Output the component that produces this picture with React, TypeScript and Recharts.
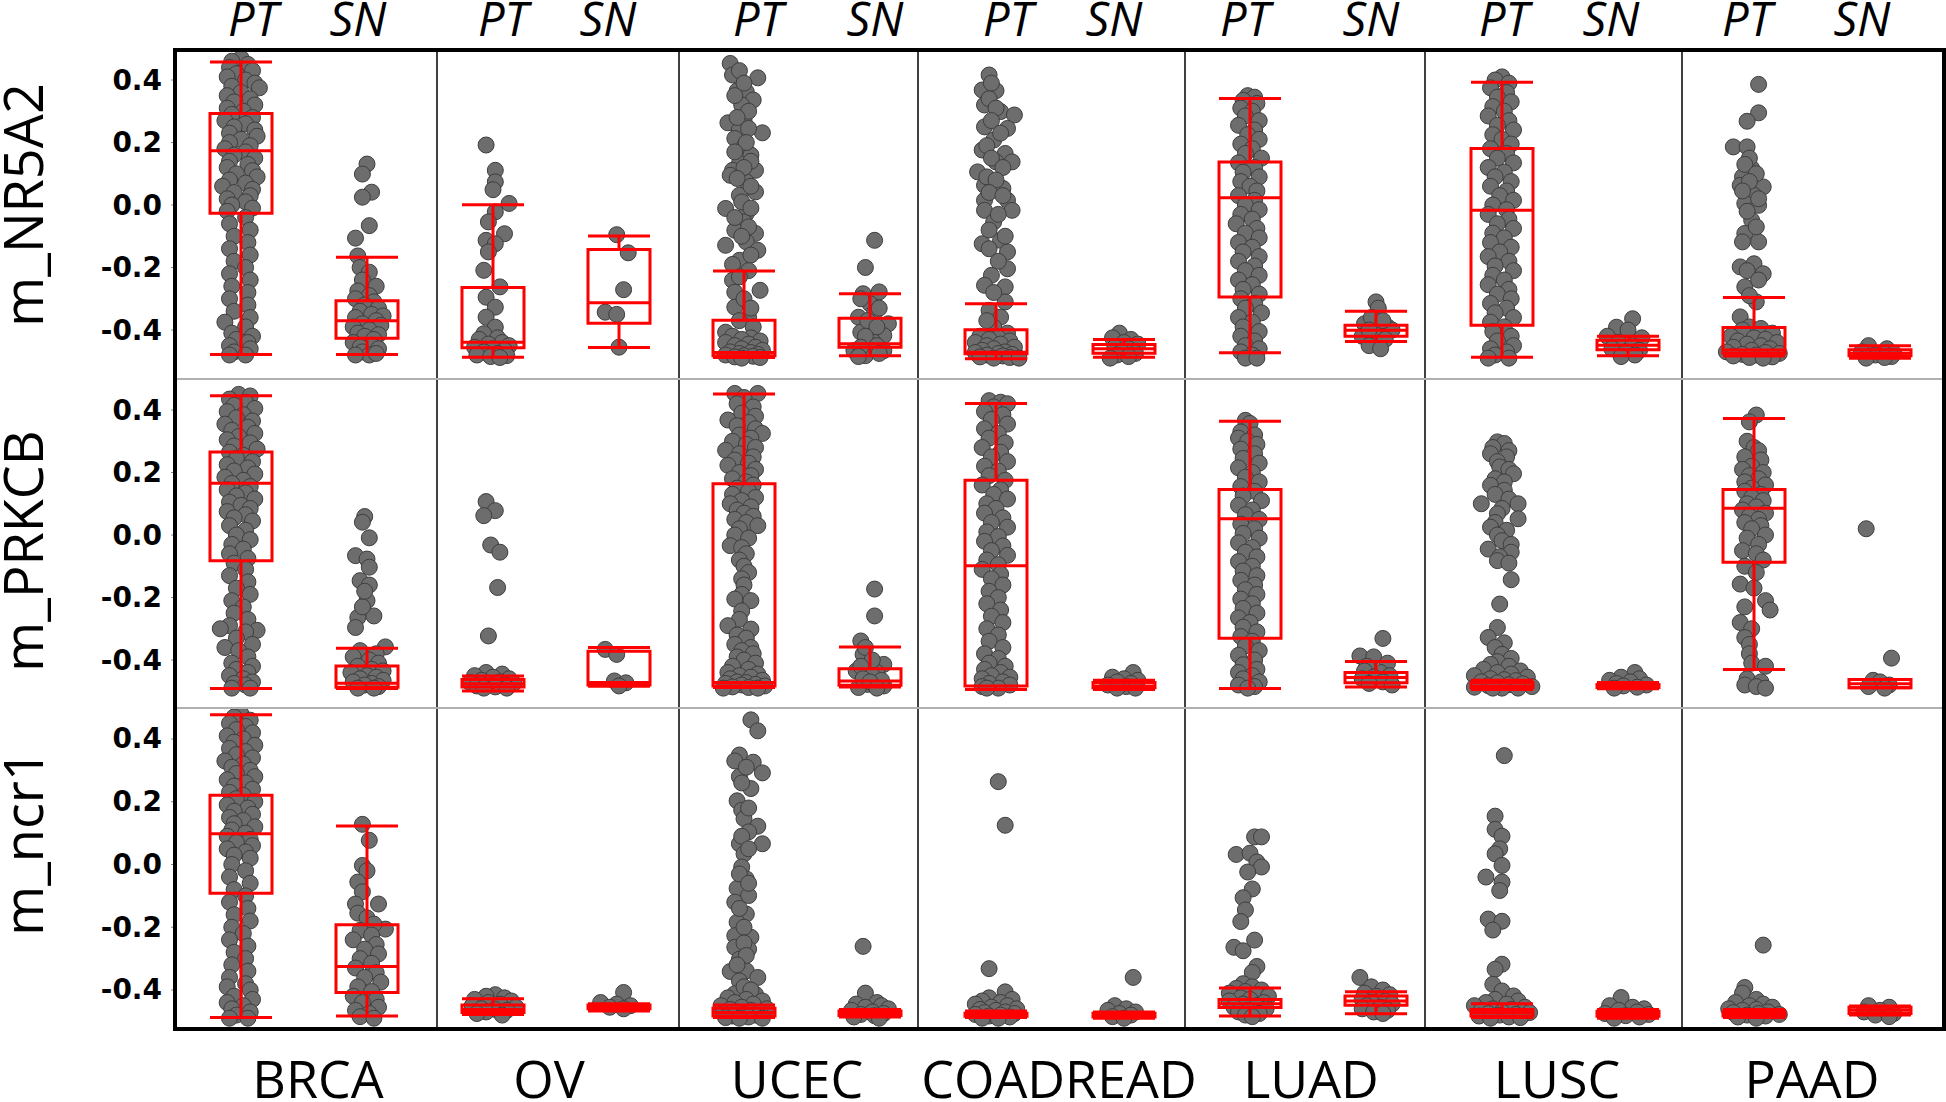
import React from 'react';
import { ScatterChart, Scatter, XAxis, YAxis, ReferenceArea, ReferenceLine } from 'recharts';

const CANCERS = ['BRCA', 'OV', 'UCEC', 'COADREAD', 'LUAD', 'LUSC', 'PAAD'];
const GROUPS = ['PT', 'SN'];
const GENES = ['m_NR5A2', 'm_PRKCB', 'm_ncr1'];
const MAJOR_TICKS = [-0.4, -0.2, 0, 0.2, 0.4];
const ALL_TICKS = [-0.5, -0.4, -0.3, -0.2, -0.1, 0, 0.1, 0.2, 0.3, 0.4];

type Pt = [number, number]; // [value, horizontal jitter]

// ---- m_NR5A2 ----
const NR5A2_BRCA_PT: Pt[] = [[0.47,0],[0.46,-4],[0.45,3],[0.44,-5],[0.43,5],[0.42,-2],[0.41,-6],[0.40,2],[0.39,6],[0.38,-4],[0.375,8],[0.36,0],[0.35,-6],[0.34,4],[0.33,-3],[0.32,6],[0.31,-6],[0.30,1],[0.29,-4],[0.28,5],[0.27,-7],[0.26,2],[0.25,-3],[0.24,6],[0.23,-5],[0.22,7],[0.21,0],[0.20,-5],[0.19,4],[0.18,-7],[0.17,2],[0.16,-3],[0.15,6],[0.14,-5],[0.13,3],[0.12,-6],[0.11,5],[0.10,-2],[0.09,7],[0.08,-5],[0.07,2],[0.06,-8],[0.05,5],[0.04,-3],[0.03,4],[0.02,-6],[0.01,2],[0.0,-4],[-0.01,5],[-0.02,-6],[-0.04,2],[-0.06,-5],[-0.08,4],[-0.10,-3],[-0.12,3],[-0.14,-5],[-0.16,4],[-0.18,-3],[-0.2,2],[-0.22,-5],[-0.24,4],[-0.26,-4],[-0.28,3],[-0.30,-5],[-0.32,3],[-0.34,-3],[-0.36,4],[-0.375,-7],[-0.39,2],[-0.41,-4],[-0.42,5],[-0.43,-2],[-0.44,3],[-0.45,-5],[-0.46,4],[-0.47,-3],[-0.48,2],[-0.48,-5]];
const NR5A2_BRCA_SN: Pt[] = [[0.131,0],[0.099,-2],[0.041,2],[0.025,-2],[-0.066,1],[-0.106,-5],[-0.163,-4],[-0.2,-3],[-0.215,1],[-0.24,-2],[-0.26,4],[-0.275,-4],[-0.29,1],[-0.3,-5],[-0.31,3],[-0.32,-1],[-0.33,5],[-0.34,-3],[-0.35,2],[-0.355,7],[-0.36,-5],[-0.37,4],[-0.38,-2],[-0.385,6],[-0.39,-6],[-0.40,1],[-0.41,-4],[-0.415,5],[-0.42,-1],[-0.43,3],[-0.44,-6],[-0.45,2],[-0.455,-3],[-0.46,5],[-0.47,-2],[-0.48,1],[-0.48,-5],[-0.475,4]];
const NR5A2_OV_PT: Pt[] = [[0.192,-3],[0.111,1],[0.074,1],[0.049,0],[0.005,7],[-0.022,1],[-0.054,-2],[-0.092,5],[-0.113,-3],[-0.124,1],[-0.15,-2],[-0.209,-4],[-0.262,3],[-0.295,-3],[-0.327,1],[-0.359,-3],[-0.391,1],[-0.412,-4],[-0.425,2],[-0.43,-6],[-0.44,4],[-0.445,-2],[-0.45,7],[-0.455,-8],[-0.46,0],[-0.465,5],[-0.47,-4],[-0.475,2],[-0.48,-7],[-0.482,6],[-0.485,-1],[-0.488,3]];
const NR5A2_OV_SN: Pt[] = [[-0.095,-1],[-0.153,4],[-0.271,2],[-0.343,-6],[-0.35,-1],[-0.455,0]];
const NR5A2_UCEC_PT: Pt[] = [[0.453,-6],[0.416,-5],[0.407,6],[0.365,-3],[0.362,1],[0.336,4],[0.32,-1],[0.272,0],[0.263,-7],[0.231,8],[0.24,-2],[0.245,2],[0.213,-4],[0.186,0],[0.16,3],[0.133,-2],[0.111,-5],[0.111,5],[0.095,-6],[0.074,1],[0.031,-2],[0.042,5],[-0.011,-8],[-0.027,1],[-0.054,0],[-0.081,-4],[-0.091,5],[-0.129,-8],[-0.118,1],[-0.145,6],[-0.177,-2],[-0.241,-5],[-0.273,7],[-0.279,-4],[-0.327,-4],[-0.359,2],[-0.407,-8],[0.43,-2],[0.39,0],[0.35,-4],[0.30,2],[0.28,-3],[0.2,1],[0.17,-4],[0.14,3],[0.12,0],[0.085,-3],[0.06,3],[0.01,-1],[-0.01,3],[-0.04,-4],[-0.07,2],[-0.1,-1],[-0.16,3],[-0.19,-5],[-0.21,2],[-0.23,-2],[-0.3,0],[-0.33,3],[-0.37,-2],[-0.39,4],[-0.42,-5],[-0.425,3],[-0.43,-1],[-0.435,7],[-0.44,-8],[-0.445,2],[-0.45,-4],[-0.455,5],[-0.46,-1],[-0.465,8],[-0.47,-6],[-0.472,3],[-0.475,-2],[-0.478,6],[-0.48,-8],[-0.482,0],[-0.484,4],[-0.486,-4],[-0.488,7],[-0.49,-1]];
const NR5A2_UCEC_SN: Pt[] = [[-0.113,2],[-0.2,-2],[-0.284,-3],[-0.278,4],[-0.316,0],[-0.343,2],[-0.359,-5],[-0.38,8],[-0.407,-4],[-0.418,6],[-0.434,1],[-0.466,-7],[-0.482,-2],[-0.466,6],[-0.3,-4],[-0.33,4],[-0.37,-1],[-0.39,3],[-0.42,-2],[-0.45,3],[-0.455,-4],[-0.475,4],[-0.485,-5]];
const NR5A2_COAD_PT: Pt[] = [[0.416,-3],[0.368,-6],[0.366,0],[0.32,-5],[0.299,2],[0.288,8],[0.25,-5],[0.245,5],[0.208,-1],[0.176,-6],[0.165,4],[0.138,0],[0.106,-8],[0.138,7],[0.063,-5],[0.053,3],[0.015,-5],[0.015,5],[-0.017,-5],[-0.017,7],[-0.054,-1],[-0.124,-6],[-0.113,2],[-0.15,5],[-0.204,5],[-0.225,-2],[-0.257,-5],[-0.262,4],[-0.31,4],[-0.337,-3],[-0.359,2],[-0.391,-1],[0.39,-2],[0.34,-3],[0.31,0],[0.27,-2],[0.23,2],[0.19,-4],[0.15,-2],[0.12,3],[0.09,-4],[0.08,0],[0.04,-3],[0.03,3],[-0.03,1],[-0.08,-3],[-0.1,4],[-0.14,-3],[-0.18,1],[-0.28,-1],[-0.37,-4],[-0.41,5],[-0.42,-7],[-0.425,1],[-0.43,-3],[-0.435,6],[-0.44,-9],[-0.445,2],[-0.45,-4],[-0.455,8],[-0.46,-1],[-0.465,-6],[-0.47,4],[-0.472,-9],[-0.475,1],[-0.478,7],[-0.48,-4],[-0.483,3],[-0.486,-7],[-0.488,6],[-0.49,-1],[-0.49,10]];
const NR5A2_COAD_SN: Pt[] = [[-0.41,-2],[-0.425,-5],[-0.43,3],[-0.44,0],[-0.445,6],[-0.455,-4],[-0.46,2],[-0.47,-1],[-0.475,5],[-0.48,-3],[-0.485,2],[-0.49,-6]];
const NR5A2_LUAD_PT: Pt[] = [[0.35,-1],[0.345,2],[0.335,-3],[0.325,3],[0.31,-4],[0.3,1],[0.285,-2],[0.27,4],[0.255,-5],[0.24,2],[0.225,-1],[0.21,4],[0.195,-4],[0.18,1],[0.165,-2],[0.15,5],[0.135,-5],[0.12,2],[0.105,-3],[0.09,4],[0.075,-4],[0.06,0],[0.045,3],[0.03,-5],[0.015,2],[0.0,-2],[-0.015,4],[-0.03,-4],[-0.045,1],[-0.06,-6],[-0.075,3],[-0.09,-2],[-0.105,4],[-0.12,-5],[-0.135,1],[-0.15,-3],[-0.165,4],[-0.18,-5],[-0.195,2],[-0.21,-2],[-0.225,4],[-0.24,-5],[-0.255,1],[-0.27,-3],[-0.285,4],[-0.3,-4],[-0.315,2],[-0.33,-2],[-0.345,5],[-0.36,-5],[-0.375,1],[-0.39,-3],[-0.405,4],[-0.42,-4],[-0.435,2],[-0.45,-2],[-0.46,4],[-0.47,-4],[-0.48,1],[-0.49,-2],[-0.49,3]];
const NR5A2_LUAD_SN: Pt[] = [[-0.31,0],[-0.33,1],[-0.38,-5],[-0.39,5],[-0.41,-1],[-0.42,-6],[-0.40,7],[-0.442,1],[-0.36,-2],[-0.37,3],[-0.4,-3],[-0.43,4],[-0.45,-3],[-0.46,2]];
const NR5A2_LUSC_PT: Pt[] = [[0.41,0],[0.4,-3],[0.39,3],[0.375,-5],[0.36,2],[0.345,-2],[0.33,4],[0.315,-4],[0.3,1],[0.285,-6],[0.27,3],[0.255,-2],[0.24,5],[0.225,-4],[0.21,0],[0.195,4],[0.18,-5],[0.165,2],[0.15,-2],[0.135,5],[0.12,-6],[0.105,1],[0.09,-3],[0.075,4],[0.06,-5],[0.045,2],[0.03,-1],[0.015,5],[0.0,-4],[-0.015,2],[-0.03,-6],[-0.045,3],[-0.06,-2],[-0.075,5],[-0.09,-4],[-0.105,1],[-0.12,-5],[-0.135,4],[-0.15,-1],[-0.165,-6],[-0.18,3],[-0.195,-3],[-0.21,5],[-0.225,-4],[-0.24,1],[-0.255,-6],[-0.27,3],[-0.285,-2],[-0.3,4],[-0.315,-5],[-0.33,2],[-0.345,-3],[-0.36,5],[-0.375,-5],[-0.39,1],[-0.405,-4],[-0.42,4],[-0.435,-2],[-0.45,5],[-0.46,-5],[-0.47,2],[-0.48,-3],[-0.49,3],[-0.49,-6]];
const NR5A2_LUSC_SN: Pt[] = [[-0.364,2],[-0.391,-5],[-0.4,0],[-0.42,-9],[-0.425,6],[-0.44,-4],[-0.45,2],[-0.46,-7],[-0.465,5],[-0.47,-1],[-0.48,3],[-0.485,-3]];
const NR5A2_PAAD_PT: Pt[] = [[0.386,2],[0.295,2],[0.268,-3],[0.186,-9],[0.186,-3],[0.117,-1],[0.09,-5],[0.058,4],[0.063,-6],[0.031,0],[0.005,-4],[-0.001,2],[-0.049,-1],[-0.091,-4],[-0.118,-5],[-0.118,2],[-0.198,-6],[-0.188,0],[-0.22,4],[-0.262,-4],[-0.31,1],[-0.358,-6],[-0.39,-2],[0.15,-2],[0.13,-4],[0.1,1],[0.075,-2],[0.045,-5],[0.02,2],[-0.02,-3],[-0.07,1],[-0.21,-3],[-0.24,2],[-0.29,-2],[-0.395,3],[-0.4,-5],[-0.41,8],[-0.42,-10],[-0.425,0],[-0.43,5],[-0.435,-7],[-0.44,10],[-0.445,-3],[-0.45,3],[-0.455,-9],[-0.46,7],[-0.465,-1],[-0.47,-12],[-0.472,5],[-0.475,11],[-0.478,-5],[-0.48,1],[-0.483,-9],[-0.486,8],[-0.488,-2],[-0.49,4]];
const NR5A2_PAAD_SN: Pt[] = [[-0.45,-5],[-0.46,3],[-0.47,-8],[-0.475,6],[-0.48,-2],[-0.485,5],[-0.49,-6],[-0.488,2]];

// ---- m_PRKCB ----
const PRKCB_BRCA_PT: Pt[] = [[0.45,-1],[0.445,4],[0.435,-5],[0.425,2],[0.415,-3],[0.405,6],[0.395,-6],[0.385,1],[0.375,-2],[0.365,5],[0.355,-7],[0.345,3],[0.335,-4],[0.325,6],[0.315,-1],[0.305,-6],[0.295,4],[0.285,-3],[0.275,7],[0.265,-5],[0.255,1],[0.245,-2],[0.235,5],[0.225,-6],[0.215,3],[0.205,-3],[0.195,6],[0.185,-7],[0.175,1],[0.165,-4],[0.155,4],[0.145,-6],[0.135,2],[0.125,-2],[0.115,6],[0.105,-5],[0.095,0],[0.085,4],[0.075,-6],[0.065,2],[0.055,-3],[0.045,5],[0.03,-5],[0.015,2],[0.0,-2],[-0.015,4],[-0.03,-4],[-0.045,1],[-0.06,-5],[-0.075,3],[-0.09,-3],[-0.11,2],[-0.13,-5],[-0.15,3],[-0.17,-2],[-0.19,4],[-0.21,-4],[-0.23,1],[-0.25,-3],[-0.27,3],[-0.29,-5],[-0.3,-9],[-0.305,7],[-0.31,2],[-0.33,-2],[-0.35,5],[-0.36,-7],[-0.37,-1],[-0.39,3],[-0.41,-4],[-0.42,5],[-0.43,-2],[-0.44,3],[-0.45,-5],[-0.46,1],[-0.47,5],[-0.475,-3],[-0.48,2],[-0.49,-4],[-0.49,4]];
const PRKCB_BRCA_SN: Pt[] = [[0.059,-1],[0.041,-2],[-0.009,1],[-0.066,-5],[-0.077,0],[-0.103,1],[-0.146,-3],[-0.16,1],[-0.21,0],[-0.264,-4],[-0.259,3],[-0.296,-5],[-0.358,8],[-0.23,-2],[-0.18,-1],[-0.37,-3],[-0.38,4],[-0.39,-6],[-0.4,1],[-0.41,5],[-0.42,-4],[-0.43,2],[-0.435,7],[-0.44,-7],[-0.45,0],[-0.455,4],[-0.46,-3],[-0.465,7],[-0.47,-6],[-0.475,2],[-0.48,-1],[-0.485,5],[-0.49,-4],[-0.49,3]];
const PRKCB_OV_PT: Pt[] = [[0.107,-3],[0.078,1],[0.062,-4],[-0.032,-1],[-0.055,3],[-0.168,2],[-0.323,-2],[-0.44,-3],[-0.445,4],[-0.45,-8],[-0.455,0],[-0.46,7],[-0.465,-5],[-0.47,3],[-0.472,-10],[-0.475,9],[-0.478,-2],[-0.48,5],[-0.483,-7],[-0.486,1],[-0.49,-4],[-0.49,6]];
const PRKCB_OV_SN: Pt[] = [[-0.366,-6],[-0.382,-1],[-0.467,-2],[-0.473,3],[-0.483,0]];
const PRKCB_UCEC_PT: Pt[] = [[0.453,-4],[0.453,6],[0.44,0],[0.42,-3],[0.41,4],[0.39,-1],[0.38,5],[0.368,-7],[0.36,2],[0.35,-3],[0.34,5],[0.325,8],[0.32,-2],[0.31,3],[0.3,-5],[0.29,1],[0.28,5],[0.271,-8],[0.26,-2],[0.25,4],[0.24,-4],[0.23,2],[0.223,-7],[0.21,5],[0.2,-2],[0.19,3],[0.18,-5],[0.17,1],[0.16,4],[0.15,-3],[0.14,2],[0.13,-5],[0.12,5],[0.11,-1],[0.1,-6],[0.09,3],[0.08,-3],[0.07,0],[0.06,4],[0.05,-4],[0.04,1],[0.03,6],[0.02,-2],[0.0,-4],[-0.01,2],[-0.034,-6],[-0.04,-1],[-0.06,1],[-0.08,-2],[-0.1,0],[-0.12,2],[-0.14,-1],[-0.16,0],[-0.19,-1],[-0.205,-4],[-0.21,3],[-0.243,-1],[-0.27,-2],[-0.29,-7],[-0.301,3],[-0.32,-3],[-0.33,1],[-0.35,-4],[-0.36,3],[-0.37,-1],[-0.38,4],[-0.39,-3],[-0.4,0],[-0.41,5],[-0.42,-5],[-0.43,2],[-0.44,-7],[-0.445,6],[-0.45,-2],[-0.455,3],[-0.46,-6],[-0.465,8],[-0.47,-3],[-0.472,1],[-0.475,-8],[-0.478,5],[-0.48,-1],[-0.483,9],[-0.486,-5],[-0.488,2],[-0.49,-9],[-0.49,6]];
const PRKCB_UCEC_SN: Pt[] = [[-0.173,2],[-0.259,2],[-0.339,-4],[-0.382,-3],[-0.414,6],[-0.435,-6],[-0.44,3],[-0.478,-1],[-0.488,-5],[-0.483,6],[-0.36,-2],[-0.4,1],[-0.42,-4],[-0.45,1],[-0.46,-3],[-0.465,5],[-0.47,0],[-0.49,3]];
const PRKCB_COAD_PT: Pt[] = [[0.43,-3],[0.425,2],[0.42,5],[0.41,-1],[0.395,-5],[0.385,3],[0.37,-2],[0.355,5],[0.34,-5],[0.325,1],[0.31,-3],[0.295,4],[0.28,-6],[0.265,2],[0.25,-2],[0.235,5],[0.22,-5],[0.205,1],[0.19,-3],[0.175,4],[0.16,-6],[0.145,2],[0.13,-1],[0.115,5],[0.1,-4],[0.085,0],[0.07,-5],[0.055,3],[0.04,-2],[0.025,5],[0.01,-4],[-0.005,1],[-0.02,-5],[-0.035,3],[-0.05,-2],[-0.065,5],[-0.08,-4],[-0.095,1],[-0.11,-6],[-0.125,2],[-0.14,-2],[-0.16,3],[-0.18,-3],[-0.2,1],[-0.22,-4],[-0.24,2],[-0.26,-2],[-0.28,3],[-0.3,-4],[-0.32,1],[-0.34,-3],[-0.36,3],[-0.38,-5],[-0.395,1],[-0.41,-3],[-0.42,4],[-0.43,-5],[-0.44,2],[-0.45,-2],[-0.455,6],[-0.46,-6],[-0.47,3],[-0.475,-3],[-0.48,6],[-0.485,-6],[-0.49,1],[-0.49,-4]];
const PRKCB_COAD_SN: Pt[] = [[-0.44,4],[-0.455,-5],[-0.46,0],[-0.465,6],[-0.47,-3],[-0.475,3],[-0.48,-7],[-0.485,1],[-0.49,5],[-0.49,-3]];
const PRKCB_LUAD_PT: Pt[] = [[0.367,-2],[0.357,0],[0.33,-4],[0.32,2],[0.31,-5],[0.3,-1],[0.29,3],[0.275,-4],[0.26,2],[0.245,-3],[0.23,4],[0.215,-5],[0.2,1],[0.185,-2],[0.17,4],[0.155,-4],[0.14,2],[0.125,-3],[0.11,5],[0.095,-5],[0.08,1],[0.065,-2],[0.05,4],[0.035,-4],[0.02,2],[0.005,-3],[-0.01,4],[-0.025,-5],[-0.04,1],[-0.055,-2],[-0.07,3],[-0.085,-5],[-0.1,1],[-0.115,-3],[-0.13,3],[-0.145,-4],[-0.16,2],[-0.175,-2],[-0.19,3],[-0.205,-4],[-0.22,1],[-0.235,-3],[-0.25,3],[-0.265,-5],[-0.28,0],[-0.295,-3],[-0.31,3],[-0.325,-4],[-0.34,1],[-0.355,-2],[-0.37,4],[-0.385,-5],[-0.4,2],[-0.415,-3],[-0.43,3],[-0.44,-5],[-0.45,1],[-0.46,-3],[-0.47,4],[-0.48,-5],[-0.485,2],[-0.49,-1]];
const PRKCB_LUAD_SN: Pt[] = [[-0.331,3],[-0.387,-7],[-0.39,-1],[-0.41,5],[-0.42,-4],[-0.435,-5],[-0.44,2],[-0.45,6],[-0.455,-1],[-0.46,-6],[-0.47,3],[-0.475,-3],[-0.48,7]];
const PRKCB_LUSC_PT: Pt[] = [[0.298,-2],[0.293,1],[0.28,-4],[0.27,3],[0.26,-5],[0.25,2],[0.235,-2],[0.218,-1],[0.21,3],[0.196,5],[0.18,-3],[0.17,1],[0.159,-5],[0.143,1],[0.13,-3],[0.115,3],[0.1,-9],[0.1,7],[0.085,0],[0.068,-2],[0.052,7],[0.04,-3],[0.025,-5],[0.015,2],[0.0,-2],[-0.018,0],[-0.03,4],[-0.045,-6],[-0.055,4],[-0.07,-1],[-0.082,-2],[-0.09,3],[-0.143,4],[-0.221,-1],[-0.296,-2],[-0.328,-6],[-0.345,1],[-0.36,-3],[-0.382,0],[-0.395,4],[-0.405,-2],[-0.414,-5],[-0.42,3],[-0.43,-8],[-0.435,8],[-0.44,-2],[-0.445,4],[-0.45,-12],[-0.455,11],[-0.46,-5],[-0.463,1],[-0.466,6],[-0.47,-9],[-0.473,-2],[-0.476,9],[-0.479,3],[-0.482,-6],[-0.485,13],[-0.487,-12],[-0.49,0],[-0.49,7],[-0.49,-4]];
const PRKCB_LUSC_SN: Pt[] = [[-0.44,3],[-0.455,-3],[-0.46,5],[-0.465,-8],[-0.47,1],[-0.475,-5],[-0.48,8],[-0.483,-2],[-0.487,4],[-0.49,-6]];
const PRKCB_PAAD_PT: Pt[] = [[0.384,1],[0.362,-2],[0.3,-3],[0.28,0],[0.27,2],[0.25,-4],[0.24,3],[0.22,-1],[0.21,-5],[0.2,4],[0.19,-2],[0.18,2],[0.17,-4],[0.16,5],[0.15,-1],[0.14,-4],[0.13,3],[0.12,-1],[0.11,4],[0.1,-3],[0.09,1],[0.08,-5],[0.07,5],[0.06,-2],[0.05,2],[0.04,-4],[0.03,3],[0.02,-1],[0.0,5],[-0.01,-3],[-0.03,2],[-0.05,-5],[-0.06,1],[-0.08,4],[-0.1,-4],[-0.12,1],[-0.157,-6],[-0.17,0],[-0.21,5],[-0.23,-4],[-0.24,7],[-0.28,-6],[-0.3,-1],[-0.328,-4],[-0.35,-2],[-0.38,-2],[-0.41,-1],[-0.42,5],[-0.46,-3],[-0.47,3],[-0.48,-4],[-0.485,1],[-0.49,5]];
const PRKCB_PAAD_SN: Pt[] = [[0.02,-6],[-0.394,5],[-0.465,-3],[-0.47,0],[-0.48,4],[-0.485,-5],[-0.49,2]];

// ---- m_ncr1 ----
const NCR1_BRCA_PT: Pt[] = [[0.48,0],[0.47,-3],[0.46,4],[0.45,-5],[0.44,2],[0.43,-2],[0.42,5],[0.41,-6],[0.4,1],[0.39,-3],[0.38,6],[0.37,-5],[0.36,2],[0.35,-2],[0.34,5],[0.33,-7],[0.32,1],[0.31,-4],[0.3,4],[0.29,-2],[0.28,6],[0.27,-6],[0.26,2],[0.25,-3],[0.24,5],[0.23,-5],[0.22,1],[0.21,-2],[0.2,6],[0.19,-6],[0.18,3],[0.17,-3],[0.16,5],[0.15,-5],[0.14,1],[0.13,-3],[0.12,6],[0.11,-4],[0.1,2],[0.09,-6],[0.08,4],[0.07,-2],[0.06,5],[0.05,-6],[0.04,2],[0.03,-3],[0.02,4],[0.0,-4],[-0.02,2],[-0.04,-5],[-0.06,4],[-0.08,-3],[-0.1,2],[-0.12,-5],[-0.14,3],[-0.16,-3],[-0.18,4],[-0.2,-4],[-0.22,1],[-0.24,-5],[-0.26,3],[-0.28,-3],[-0.3,2],[-0.32,-4],[-0.34,3],[-0.36,-5],[-0.38,2],[-0.39,-6],[-0.4,4],[-0.42,-3],[-0.43,5],[-0.44,-6],[-0.45,1],[-0.46,-4],[-0.47,4],[-0.48,-2],[-0.49,3],[-0.49,-5]];
const NCR1_BRCA_SN: Pt[] = [[0.128,-2],[0.077,1],[-0.003,-2],[-0.02,0],[-0.056,-4],[-0.087,-2],[-0.126,-5],[-0.126,5],[-0.155,-4],[-0.206,8],[-0.17,0],[-0.19,3],[-0.21,-3],[-0.225,2],[-0.24,-6],[-0.255,4],[-0.27,-1],[-0.285,5],[-0.3,-3],[-0.315,2],[-0.33,-5],[-0.345,4],[-0.36,-1],[-0.375,6],[-0.39,-4],[-0.405,2],[-0.42,-6],[-0.43,4],[-0.44,-2],[-0.455,5],[-0.465,-5],[-0.475,1],[-0.485,-3],[-0.49,3]];
const NCR1_OV_PT: Pt[] = [[-0.415,1],[-0.42,-3],[-0.425,5],[-0.43,-8],[-0.435,8],[-0.44,-2],[-0.445,3],[-0.45,-9],[-0.455,10],[-0.46,-5],[-0.462,1],[-0.465,6],[-0.47,-3],[-0.475,-7],[-0.48,4]];
const NCR1_OV_SN: Pt[] = [[-0.408,2],[-0.44,-8],[-0.445,-1],[-0.45,5],[-0.455,-4],[-0.46,2]];
const NCR1_UCEC_PT: Pt[] = [[0.461,3],[0.426,6],[0.349,-2],[0.33,-4],[0.326,4],[0.292,8],[0.28,-2],[0.242,3],[0.203,-3],[0.173,-1],[0.146,0],[0.122,6],[0.104,2],[0.066,-2],[0.066,8],[0.034,0],[-0.008,-1],[-0.046,1],[-0.076,-3],[-0.099,2],[-0.12,-4],[-0.158,1],[-0.184,-3],[-0.227,-4],[-0.232,3],[-0.264,-4],[-0.27,2],[-0.302,-2],[-0.341,-6],[-0.339,1],[-0.36,6],[-0.371,-2],[-0.412,-4],[-0.414,5],[0.31,1],[0.26,-1],[0.18,2],[0.09,-1],[0.05,2],[-0.03,-2],[-0.06,2],[-0.14,-2],[-0.2,0],[-0.25,0],[-0.29,1],[-0.32,-3],[-0.39,0],[-0.4,3],[-0.425,-7],[-0.43,1],[-0.435,8],[-0.44,-4],[-0.445,4],[-0.45,-10],[-0.455,-1],[-0.46,10],[-0.462,-6],[-0.465,3],[-0.47,-3],[-0.472,7],[-0.475,-9],[-0.478,0],[-0.48,5],[-0.483,-5],[-0.486,2],[-0.488,-8],[-0.49,8],[-0.49,-2]];
const NCR1_UCEC_SN: Pt[] = [[-0.261,-3],[-0.41,-2],[-0.44,3],[-0.445,-6],[-0.45,5],[-0.455,-2],[-0.46,8],[-0.465,-8],[-0.47,1],[-0.475,6],[-0.478,-4],[-0.482,2],[-0.486,-7],[-0.49,4]];
const NCR1_COAD_PT: Pt[] = [[0.264,1],[0.125,4],[-0.332,-3],[-0.406,4],[-0.425,-3],[-0.43,7],[-0.435,-6],[-0.44,2],[-0.445,-9],[-0.45,5],[-0.455,-2],[-0.46,9],[-0.462,-7],[-0.465,0],[-0.47,4],[-0.472,-5],[-0.475,8],[-0.478,-9],[-0.48,2],[-0.483,-3],[-0.486,6],[-0.49,-6],[-0.49,1]];
const NCR1_COAD_SN: Pt[] = [[-0.36,4],[-0.45,-4],[-0.46,1],[-0.465,-7],[-0.47,5],[-0.475,-2],[-0.48,3],[-0.485,-5],[-0.49,0]];
const NCR1_LUAD_PT: Pt[] = [[0.088,2],[0.088,5],[0.032,-6],[0.036,0],[0.008,3],[-0.008,5],[-0.024,-1],[-0.078,1],[-0.106,-3],[-0.145,-2],[-0.182,-4],[-0.241,2],[-0.264,-7],[-0.275,-3],[-0.325,3],[-0.344,1],[-0.38,-3],[-0.39,1],[-0.395,-6],[-0.4,5],[-0.405,-2],[-0.41,-9],[-0.415,3],[-0.42,8],[-0.425,-4],[-0.43,0],[-0.435,-9],[-0.44,6],[-0.445,-3],[-0.45,3],[-0.455,-7],[-0.46,7],[-0.465,-1],[-0.47,-5],[-0.475,4],[-0.48,-2],[-0.485,1]];
const NCR1_LUAD_SN: Pt[] = [[-0.36,-7],[-0.39,-2],[-0.4,3],[-0.41,-5],[-0.415,6],[-0.42,0],[-0.43,-6],[-0.435,4],[-0.44,-2],[-0.445,7],[-0.45,-4],[-0.455,2],[-0.46,-6],[-0.465,5],[-0.47,-1],[-0.475,3]];
const NCR1_LUSC_PT: Pt[] = [[0.347,1],[0.154,-3],[0.112,-3],[0.09,0],[0.05,-1],[0.034,-3],[-0.003,0],[-0.04,-7],[-0.056,0],[-0.083,-1],[-0.174,-6],[-0.181,0],[-0.209,-4],[-0.318,0],[-0.334,-3],[-0.382,-4],[-0.403,0],[-0.419,5],[-0.43,-3],[-0.435,7],[-0.44,-7],[-0.445,2],[-0.45,-12],[-0.455,10],[-0.46,-4],[-0.462,4],[-0.465,-9],[-0.47,0],[-0.472,12],[-0.475,-6],[-0.478,6],[-0.48,-1],[-0.483,-10],[-0.486,3],[-0.488,8],[-0.49,-5]];
const NCR1_LUSC_SN: Pt[] = [[-0.424,-3],[-0.45,-8],[-0.455,2],[-0.46,7],[-0.465,-4],[-0.47,4],[-0.475,-10],[-0.478,9],[-0.482,-1],[-0.486,5],[-0.49,-6]];
const NCR1_PAAD_PT: Pt[] = [[-0.257,4],[-0.392,-4],[-0.41,-5],[-0.43,1],[-0.44,-8],[-0.445,4],[-0.45,-2],[-0.455,8],[-0.46,-11],[-0.462,1],[-0.465,-5],[-0.47,6],[-0.472,-9],[-0.475,2],[-0.478,11],[-0.48,-3],[-0.483,5],[-0.486,-7],[-0.49,1]];
const NCR1_PAAD_SN: Pt[] = [[-0.45,-5],[-0.455,4],[-0.465,0],[-0.47,-7],[-0.475,6],[-0.48,-2],[-0.485,4]];

// strips in order BRCA PT, BRCA SN, OV PT, OV SN, ...
const NR5A2_POINTS = [NR5A2_BRCA_PT, NR5A2_BRCA_SN, NR5A2_OV_PT, NR5A2_OV_SN, NR5A2_UCEC_PT, NR5A2_UCEC_SN, NR5A2_COAD_PT, NR5A2_COAD_SN, NR5A2_LUAD_PT, NR5A2_LUAD_SN, NR5A2_LUSC_PT, NR5A2_LUSC_SN, NR5A2_PAAD_PT, NR5A2_PAAD_SN];
const PRKCB_POINTS = [PRKCB_BRCA_PT, PRKCB_BRCA_SN, PRKCB_OV_PT, PRKCB_OV_SN, PRKCB_UCEC_PT, PRKCB_UCEC_SN, PRKCB_COAD_PT, PRKCB_COAD_SN, PRKCB_LUAD_PT, PRKCB_LUAD_SN, PRKCB_LUSC_PT, PRKCB_LUSC_SN, PRKCB_PAAD_PT, PRKCB_PAAD_SN];
const NCR1_POINTS = [NCR1_BRCA_PT, NCR1_BRCA_SN, NCR1_OV_PT, NCR1_OV_SN, NCR1_UCEC_PT, NCR1_UCEC_SN, NCR1_COAD_PT, NCR1_COAD_SN, NCR1_LUAD_PT, NCR1_LUAD_SN, NCR1_LUSC_PT, NCR1_LUSC_SN, NCR1_PAAD_PT, NCR1_PAAD_SN];

// box stats per strip: [whisker low, q1, median, q3, whisker high]
const NR5A2_BOXES = [
  [-0.478, -0.026, 0.174, 0.293, 0.458], [-0.478, -0.426, -0.37, -0.306, -0.167],
  [-0.487, -0.457, -0.439, -0.264, 0.001], [-0.456, -0.378, -0.313, -0.142, -0.099],
  [-0.488, -0.482, -0.472, -0.369, -0.211], [-0.482, -0.455, -0.444, -0.362, -0.284],
  [-0.492, -0.476, -0.471, -0.399, -0.316], [-0.487, -0.474, -0.46, -0.446, -0.43],
  [-0.473, -0.294, 0.023, 0.138, 0.341], [-0.437, -0.42, -0.401, -0.385, -0.34],
  [-0.487, -0.385, -0.017, 0.181, 0.393], [-0.482, -0.463, -0.449, -0.433, -0.42],
  [-0.483, -0.474, -0.464, -0.392, -0.296], [-0.49, -0.482, -0.474, -0.463, -0.45],
];
const PRKCB_BOXES = [
  [-0.491, -0.082, 0.166, 0.266, 0.446], [-0.491, -0.487, -0.474, -0.419, -0.362],
  [-0.499, -0.486, -0.476, -0.462, -0.451], [-0.484, -0.48, -0.472, -0.372, -0.36],
  [-0.488, -0.483, -0.472, 0.164, 0.451], [-0.486, -0.481, -0.467, -0.428, -0.358],
  [-0.494, -0.483, -0.098, 0.175, 0.421], [-0.494, -0.489, -0.483, -0.472, -0.465],
  [-0.491, -0.33, 0.052, 0.146, 0.364], [-0.486, -0.473, -0.456, -0.44, -0.405],
  [-0.494, -0.489, -0.483, -0.472, -0.465], [-0.492, -0.488, -0.484, -0.478, -0.472],
  [-0.43, -0.087, 0.086, 0.146, 0.373], [-0.489, -0.489, -0.476, -0.462, -0.462],
];
const NCR1_BOXES = [
  [-0.488, -0.092, 0.098, 0.221, 0.477], [-0.483, -0.408, -0.325, -0.192, 0.123],
  [-0.478, -0.472, -0.462, -0.448, -0.428], [-0.467, -0.46, -0.454, -0.448, -0.444],
  [-0.488, -0.483, -0.472, -0.458, -0.448], [-0.486, -0.481, -0.474, -0.467, -0.462],
  [-0.488, -0.484, -0.478, -0.474, -0.467], [-0.49, -0.486, -0.48, -0.474, -0.47],
  [-0.483, -0.456, -0.444, -0.43, -0.394], [-0.476, -0.449, -0.435, -0.419, -0.406],
  [-0.488, -0.483, -0.472, -0.462, -0.444], [-0.49, -0.484, -0.476, -0.468, -0.462],
  [-0.488, -0.483, -0.475, -0.47, -0.462], [-0.48, -0.475, -0.465, -0.455, -0.451],
];

// ---- layout (px) ----
const PAGE_W = 1946;
const PAGE_H = 1102;
const PLOT_LEFT = 177;
const PLOT_W = 1765;
const STRIP_X = [64, 190, 316, 442, 567, 693, 819, 947, 1073, 1199, 1325, 1451, 1577, 1703];
const COL_EDGES = [260, 502, 741, 1008, 1248, 1505];
const TOP_LABEL_X = [253, 358, 503, 608, 758, 875, 1008, 1114, 1245, 1371, 1504, 1611, 1747, 1862];
const BOTTOM_LABEL_X = [318, 549, 797, 1059, 1311, 1557, 1812];
const ROW_LABEL_Y = [205, 551, 843];
const HALF_BOX = 31;
const JITTER = 2.3;
const DOT_R = 8;
const RED = '#ff0000';
const ROWS = [
  { top: 52, height: 327, domain: [-0.5568, 0.4896], points: NR5A2_POINTS, boxes: NR5A2_BOXES },
  { top: 380, height: 327, domain: [-0.5504, 0.496], points: PRKCB_POINTS, boxes: PRKCB_BOXES },
  { top: 709, height: 318, domain: [-0.518, 0.4956], points: NCR1_POINTS, boxes: NCR1_BOXES },
];

const Dot = (p: any) => (
  <circle cx={p.cx} cy={p.cy} r={DOT_R} fill="#6d6d6d" stroke="#3e3e3e" strokeWidth={1} />
);

const YTick = (props: any) => {
  const { x, y, payload } = props;
  const v = payload.value as number;
  const major = MAJOR_TICKS.some((t) => Math.abs(t - v) < 1e-6);
  return (
    <g>
      <line x1={x + (major ? 2 : 4)} x2={x + 8} y1={y} y2={y} stroke={major ? '#888' : '#ccc'} strokeWidth={1} />
      {major && (
        <text x={x - 7} y={y} textAnchor="end" dominantBaseline="central"
          style={{ fontFamily: 'DejaVu Sans', fontWeight: 'bold', fontSize: 28, fill: '#000' }}>
          {v.toFixed(1)}
        </text>
      )}
    </g>
  );
};

function RowChart({ row }: { row: (typeof ROWS)[number] }) {
  const data = row.points.flatMap((strip, i) =>
    strip.map(([v, j]) => ({ x: STRIP_X[i] + j * JITTER, y: v })),
  );
  return (
    <div style={{ position: 'absolute', left: 0, top: row.top }}>
      <ScatterChart width={PAGE_W} height={row.height} margin={{ top: 0, right: PAGE_W - PLOT_LEFT - PLOT_W, bottom: 0, left: 0 }}>
        <XAxis type="number" dataKey="x" domain={[0, PLOT_W]} hide allowDataOverflow />
        <YAxis type="number" dataKey="y" domain={row.domain} ticks={ALL_TICKS} interval={0}
          width={PLOT_LEFT} allowDataOverflow axisLine={false} tickLine={false}
          tickSize={6} tickMargin={2} tick={<YTick />} />
        {COL_EDGES.map((e) => (
          <ReferenceLine key={`c${e}`} x={e} stroke="#000" strokeWidth={1.5} />
        ))}
        <Scatter data={data} shape={Dot} isAnimationActive={false} />
        {row.boxes.map(([lo, q1, med, q3, hi], i) => {
          const c = STRIP_X[i];
          const l = c - HALF_BOX;
          const r = c + HALF_BOX;
          const line = { stroke: RED, strokeWidth: 3, zIndex: 700 };
          return [
            <ReferenceArea key={`b${i}`} x1={l} x2={r} y1={q1} y2={q3} fill="none" fillOpacity={0} stroke={RED} strokeWidth={3} zIndex={700} />,
            <ReferenceLine key={`m${i}`} segment={[{ x: l, y: med }, { x: r, y: med }]} {...line} />,
            <ReferenceLine key={`wh${i}`} segment={[{ x: c, y: q3 }, { x: c, y: hi }]} {...line} />,
            <ReferenceLine key={`wl${i}`} segment={[{ x: c, y: lo }, { x: c, y: q1 }]} {...line} />,
            <ReferenceLine key={`ch${i}`} segment={[{ x: l, y: hi }, { x: r, y: hi }]} {...line} />,
            <ReferenceLine key={`cl${i}`} segment={[{ x: l, y: lo }, { x: r, y: lo }]} {...line} />,
          ];
        })}
      </ScatterChart>
    </div>
  );
}

export default function App() {
  const labelFont = { fontFamily: '"Open Sans", "Noto Sans", sans-serif', fill: '#000' };
  return (
    <div style={{ position: 'absolute', left: 0, top: 0, width: PAGE_W, height: PAGE_H, background: '#fff', overflow: 'hidden' }}>
      {ROWS.map((row, i) => (
        <RowChart key={i} row={row} />
      ))}
      <svg width={PAGE_W} height={PAGE_H} style={{ position: 'absolute', left: 0, top: 0, pointerEvents: 'none' }}>
        <line x1={PLOT_LEFT} x2={PLOT_LEFT + PLOT_W} y1={379} y2={379} stroke="#b0b0b0" strokeWidth={2} />
        <line x1={PLOT_LEFT} x2={PLOT_LEFT + PLOT_W} y1={708} y2={708} stroke="#b0b0b0" strokeWidth={2} />
        <rect x={175} y={50} width={1769} height={979} fill="none" stroke="#000" strokeWidth={4} />
        {TOP_LABEL_X.map((x, i) => (
          <text key={`t${i}`} x={x} y={36} textAnchor="middle" style={{ ...labelFont, fontSize: 47, fontStyle: 'italic' }}>
            {GROUPS[i % 2]}
          </text>
        ))}
        {CANCERS.map((c, i) => (
          <text key={c} x={BOTTOM_LABEL_X[i]} y={1098} textAnchor="middle" style={{ ...labelFont, fontSize: 52 }}>
            {c}
          </text>
        ))}
        {GENES.map((g, i) => (
          <text key={g} transform={`translate(43, ${ROW_LABEL_Y[i]}) rotate(-90)`} textAnchor="middle" style={{ ...labelFont, fontSize: 54 }}>
            {g}
          </text>
        ))}
      </svg>
    </div>
  );
}
